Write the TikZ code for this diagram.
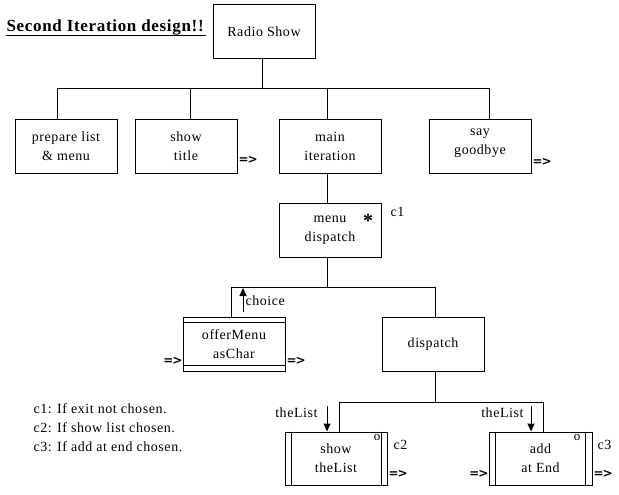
\documentclass[tikz,border=0pt]{standalone}
\usepackage{fontspec}
\setmainfont{Liberation Serif}[LetterSpace=4]
\newfontfamily\flowfont{DejaVu Sans}[LetterSpace=-8]
\usetikzlibrary{arrows.meta}
\begin{document}
\begin{tikzpicture}[x=1pt,y=-1pt,line width=1pt,
  box/.style={draw,line width=1pt,minimum width=102pt,minimum height=54pt,inner sep=0pt,align=center,font=\fontsize{14}{19}\selectfont},
  txt/.style={font=\fontsize{14}{19}\selectfont,inner sep=0pt},
  flow/.style={font=\flowfont\bfseries\fontsize{12}{12}\selectfont,inner sep=0pt},
  dataflow/.style={line width=1pt,-{Triangle[length=8pt,width=7pt]}}]
\useasboundingbox (0,0) rectangle (619,495);
% title
\node[font=\bfseries\fontsize{17}{18}\selectfont,inner sep=0pt,anchor=base west] (title) at (6,32) {Second Iteration design!!};
\draw (title.base west) ++(0,4) coordinate (ulA);
\draw (ulA) -- ([xshift=2pt]ulA -| title.east);
% boxes
\node[box] (radio) at (264,32) {Radio Show};
\node[box] (prep) at (66,146) {prepare list\\ \& menu};
\node[box] (show) at (186,146) {show\\title};
\node[box] (main) at (330,146) {main\\iteration};
\node[box] (say) at (480,146) {};
\node[txt,align=center] (saytxt) at (480,143) {say\\goodbye};
\node[box] (menu) at (330,230) {menu\\dispatch};
\node[box] (off) at (234,344) {offerMenu\\asChar};
\node[box] (disp) at (433,344) {dispatch};
\node[box,minimum height=53pt] (showl) at (336,458.5) {show\\theList};
\node[box,minimum width=103pt,minimum height=53pt] (add) at (540.5,458.5) {add\\at End};
% inner lines
\draw ([yshift=-6pt]off.north west) -- ([yshift=-6pt]off.north east);
\draw ([yshift=6pt]off.south west) -- ([yshift=6pt]off.south east);
\draw ([xshift=7pt]showl.north west) -- ([xshift=7pt]showl.south west);
\draw ([xshift=-6pt]showl.north east) -- ([xshift=-6pt]showl.south east);
\draw ([xshift=7pt]add.north west) -- ([xshift=7pt]add.south west);
\draw ([xshift=-7pt]add.north east) -- ([xshift=-7pt]add.south east);
% connectors level 1
\coordinate (j1) at (262,89);
\coordinate (b1L) at (57,89);
\coordinate (b1S) at (190,89);
\coordinate (b1M) at (327,89);
\coordinate (b1R) at (489,89);
\draw (radio.south -| j1) -- (j1);
\draw (prep.north -| b1L) -- (b1L) -- (b1R) -- (say.north -| b1R);
\draw (b1S) -- (show.north -| b1S);
\draw (b1M) -- (main.north -| b1M);
\draw (main.south -| b1M) -- (menu.north -| b1M);
% level 2
\coordinate (j2) at (327,287);
\coordinate (b2L) at (231,287);
\coordinate (b2R) at (435,287);
\draw (menu.south -| j2) -- (j2);
\draw (off.north -| b2L) -- (b2L) -- (b2R) -- (disp.north -| b2R);
\coordinate (chT) at (243,288);
\draw[dataflow,shorten <=5pt] (off.north -| chT) -- (chT);
\node[txt,anchor=west] (choice) at (245,301) {choice};
% level 3
\coordinate (j3) at (435,402);
\coordinate (b3L) at (339,402);
\coordinate (b3R) at (543,402);
\draw (disp.south -| j3) -- (j3);
\draw (showl.north -| b3L) -- (b3L) -- (b3R) -- (add.north -| b3R);
\coordinate (tl1) at (327,406);
\coordinate (tl2) at (531,406);
\draw[dataflow] (tl1) -- (showl.north -| tl1);
\draw[dataflow] (tl2) -- (add.north -| tl2);
\node[txt,anchor=east] (tlab1) at (318,413) {theList};
\node[txt,anchor=east] (tlab2) at (524,413) {theList};
% markers
\node[font=\bfseries\fontsize{20}{20}\selectfont,inner sep=0pt] (star) at (368,221) {*};
\node[txt,anchor=west] (c1m) at (390,212) {c1};
\node[font=\fontsize{13}{13}\selectfont,inner sep=0pt] (o1) at (377,437) {o};
\node[font=\fontsize{13}{13}\selectfont,inner sep=0pt] (o2) at (577,437) {o};
\node[txt,anchor=west] (c2m) at (393,445) {c2};
\node[txt,anchor=west] (c3m) at (597,445) {c3};
% flows
\node[flow,anchor=west] (f1) at (238,160) {=>};
\node[flow,anchor=west] (f2) at (532,162) {=>};
\node[flow,anchor=east] (f3) at (183,361) {=>};
\node[flow,anchor=west] (f4) at (286,361) {=>};
\node[flow,anchor=west] (f5) at (388,474) {=>};
\node[flow,anchor=east] (f6) at (489,474) {=>};
\node[flow,anchor=west] (f7) at (593,474) {=>};
% legend
\node[txt,anchor=west] (l1) at (33,409) {c1: If exit not chosen.};
\node[txt,anchor=west] (l2) at (33,428) {c2: If show list chosen.};
\node[txt,anchor=west] (l3) at (33,447) {c3: If add at end chosen.};
\end{tikzpicture}
\end{document}
